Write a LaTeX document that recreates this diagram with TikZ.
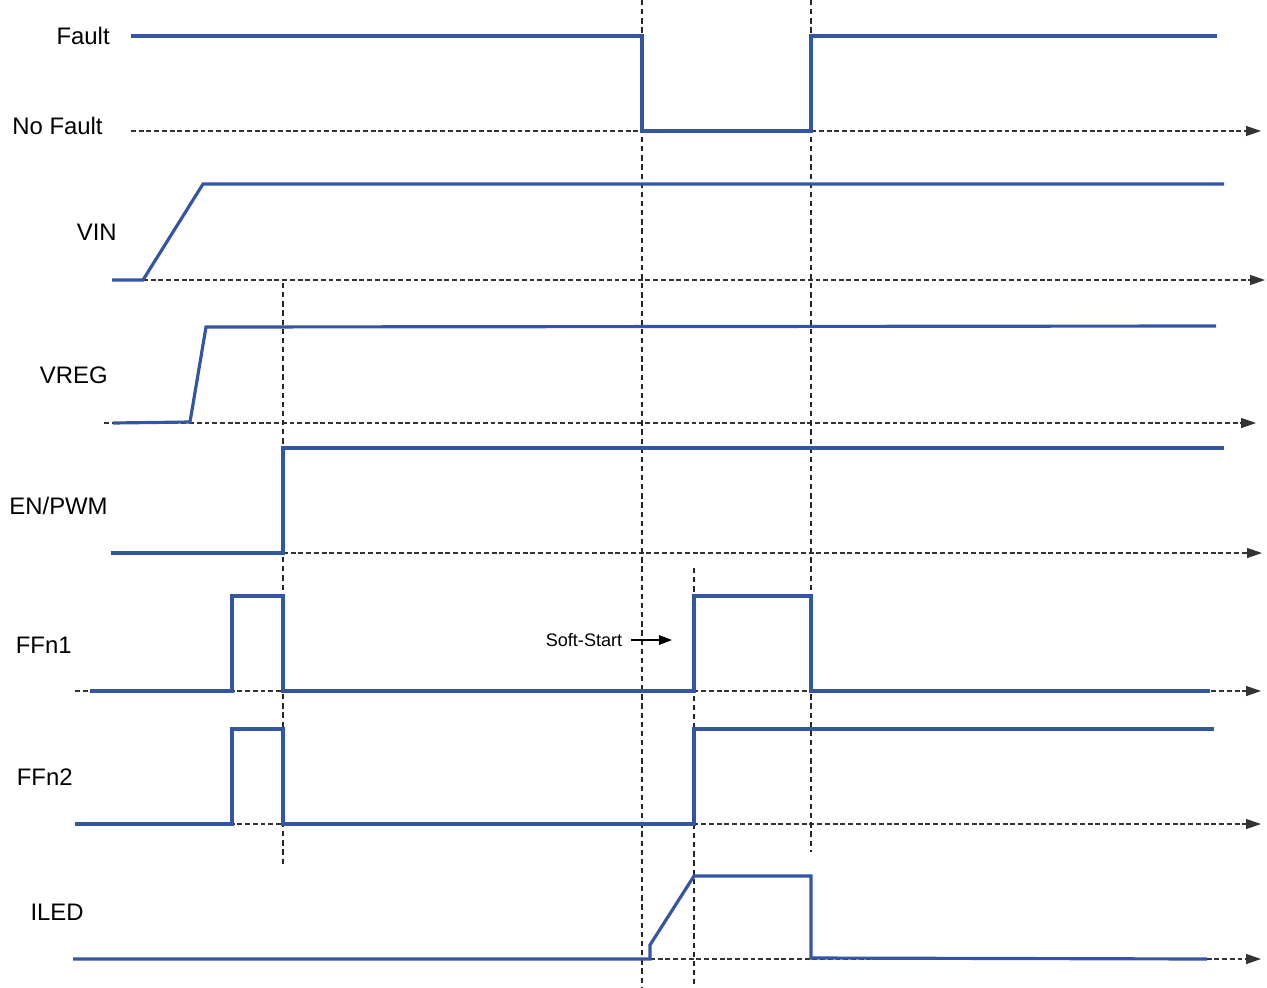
\documentclass[tikz,border=0pt]{standalone}
\usepackage{fontspec}
\setmainfont{Liberation Sans}
\usepackage{tikz}
\usetikzlibrary{arrows.meta,positioning}
\definecolor{sigblue}{RGB}{52,84,164}
\tikzset{
  td/signal/.style={draw=sigblue, line width=1.8pt, line join=miter},
  td/axis/.style={draw=black!80, line width=0.7pt, dash pattern=on 2.8pt off 1.6pt, -{Triangle[length=3mm,width=2mm]}},
  td/grid/.style={draw=black!85, line width=0.6pt, dash pattern=on 3pt off 2.2pt},
  td/label/.style={anchor=east, inner sep=0pt, font=\fontsize{13.6}{16}\selectfont},
  td/note/.style={inner sep=0pt, font=\fontsize{10.3}{12}\selectfont}
}

\begin{document}
\begin{tikzpicture}[x=0.02cm, y=-0.02cm]
  \useasboundingbox (0,0) rectangle (1267,987);

  % signal names
  \node[td/label] (fault)   at (110,36)  {Fault};
  \node[td/label] (nofault) at (103,126) {No Fault};
  \node[td/label] (vin)     at (117,232) {VIN};
  \node[td/label] (vreg)    at (108,375) {VREG};
  \node[td/label] (enpwm)   at (108,506) {EN/PWM};
  \node[td/label] (ffn1)    at (72,645)  {FFn1};
  \node[td/label] (ffn2)    at (73,777)  {FFn2};
  \node[td/label] (iled)    at (84,912)  {ILED};

  % time axes
  \draw[td/axis] (131,131) -- (1261,131);
  \draw[td/axis] (143,280) -- (1265,280);
  \draw[td/axis] (104,423) -- (1256,423);
  \draw[td/axis] (283,553) -- (1262,553);
  \draw[td/axis] (75,691)  -- (1261,691);
  \draw[td/axis] (75,824)  -- (1261,824);
  \draw[td/axis] (650,959) -- (1261,959);

  % event markers
  \draw[td/grid] (642,0)   -- (642,987);
  \draw[td/grid] (811,0)   -- (811,852);
  \draw[td/grid] (283,283) -- (283,865);
  \draw[td/grid] (694,568) -- (694,987);

  % waveforms
  \draw[td/signal] (131,36) -- (642,36) -- (642,131) -- (811,131) -- (811,36) -- (1217,36);
  \draw[td/signal] (112,280) -- (143,280) -- (203,184) -- (1224,184);
  \draw[td/signal] (113,423) -- (190,422) -- (206,327) -- (1216,326);
  \draw[td/signal] (111,553) -- (283,553) -- (283,448) -- (1224,448);
  \draw[td/signal] (90,691) -- (232,691) -- (232,596) -- (283,596) -- (283,691)
    -- (694,691) -- (694,596) -- (811,596) -- (811,691) -- (1210,691);
  \draw[td/signal] (75,824) -- (232,824) -- (232,729) -- (283,729) -- (283,824)
    -- (694,824) -- (694,729) -- (1214,729);
  \draw[td/signal] (73,959) -- (650,959) -- (650,945) -- (694,876) -- (811,876)
    -- (811,958) -- (1207,959);

  % soft-start note
  \node[td/note] (softstart) at (584,640) {Soft-Start};
  \coordinate (softtip) at (672,640);
  \draw[line width=0.9pt, -{Triangle[length=2.6mm,width=1.9mm]}] ([xshift=1.7mm]softstart.east) -- (softtip);
\end{tikzpicture}
\end{document}
